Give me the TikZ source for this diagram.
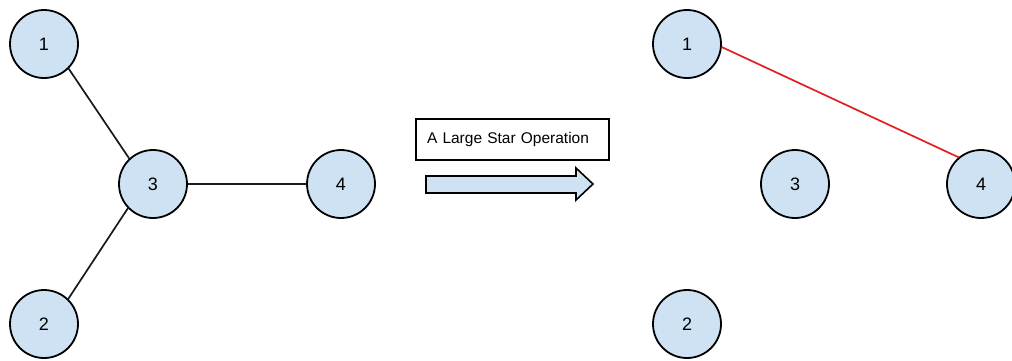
\documentclass[tikz,border=0pt]{standalone}
\usepackage{fontspec}
\setmainfont{Liberation Sans}
\definecolor{nodeblue}{HTML}{CFE2F3}
\definecolor{edgered}{HTML}{E41E1E}
\tikzset{
  vert/.style={circle, draw=black, line width=1.8pt, fill=nodeblue, minimum size=68pt, inner sep=0pt, font=\fontsize{18}{21}\selectfont},
  edge/.style={line width=1.7pt, draw=black!90},
  redge/.style={line width=1.7pt, draw=edgered},
  labelbox/.style={draw=black, line width=1.5pt, fill=white, text width=171pt, align=left, inner xsep=11pt, minimum height=41pt, inner ysep=0pt, font=\fontsize{15.5}{18}\selectfont},
  bigarrow/.style={draw=black, line width=1.6pt, fill=nodeblue, line join=miter}
}
\begin{document}
\begin{tikzpicture}[x=1pt,y=-1pt]
\useasboundingbox (0,0) rectangle (1012,360);
% left graph
\node[vert] (l1) at (44,44) {1};
\node[vert] (l2) at (44,324) {2};
\node[vert] (l3) at (153,184) {3};
\node[vert] (l4) at (341,184) {4};
\draw[edge] (l1.-45) -- (l3.133);
\draw[edge] (l2.46) -- (l3.224);
\draw[edge] (l3.east) -- (l4.west);
% operation label and arrow
\node[labelbox] (op) at (512.5,139.5) {A Large Star Operation};
\draw[bigarrow] (426,176) -- (576,176) -- (576,168) -- (593,184) -- (576,200) -- (576,193) -- (426,193) -- cycle;
% right graph
\node[vert] (r1) at (687,44) {1};
\node[vert] (r2) at (687,324) {2};
\node[vert] (r3) at (795,184) {3};
\node[vert] (r4) at (981,184) {4};
\draw[redge] (r1.-5) -- (r4.130);
\end{tikzpicture}
\end{document}
